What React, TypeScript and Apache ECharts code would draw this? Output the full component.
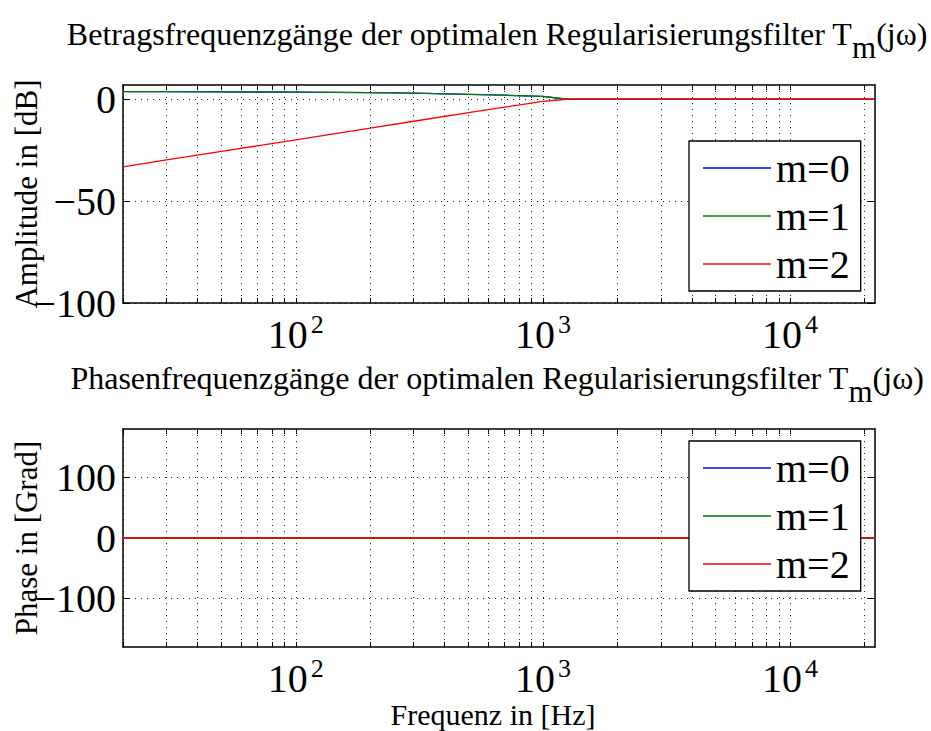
import React, { useEffect, useRef } from 'react';
import * as echarts from 'echarts';

// ---- data ----
const freqs = [20, 30, 50, 100, 200, 300, 500, 700, 1000, 1250, 2000, 5000, 10000, 22050];
const ampM0 = [3.7, 3.7, 3.6, 3.5, 3.3, 3.0, 2.4, 2.0, 1.4, 0, 0, 0, 0, 0];
const ampM1 = [3.7, 3.7, 3.6, 3.5, 3.3, 3.0, 2.4, 2.0, 1.4, 0, 0, 0, 0, 0];
const ampM2 = [-33.2, -29.8, -25.6, -19.9, -14.2, -10.8, -6.6, -3.9, -1.0, 0, 0, 0, 0, 0];
const phaseM0 = [0, 0, 0, 0, 0, 0, 0, 0, 0, 0, 0, 0, 0, 0];
const phaseM1 = [0, 0, 0, 0, 0, 0, 0, 0, 0, 0, 0, 0, 0, 0];
const phaseM2 = [0, 0, 0, 0, 0, 0, 0, 0, 0, 0, 0, 0, 0, 0];
const seriesNames = ['m=0', 'm=1', 'm=2'];
const seriesColors = ['#0000ff', '#008000', '#ff0000'];
const freqGridValues = [
  20, 30, 40, 50, 60, 70, 80, 90,
  100, 200, 300, 400, 500, 600, 700, 800, 900,
  1000, 2000, 3000, 4000, 5000, 6000, 7000, 8000, 9000,
  10000, 20000,
];
const freqLabelValues = [100, 1000, 10000];
const ampTicks = [-100, -50, 0];
const phaseTicks = [-100, 0, 100];
const titleTop = 'Betragsfrequenzgänge der optimalen Regularisierungsfilter T';
const titleBottom = 'Phasenfrequenzgänge der optimalen Regularisierungsfilter T';
const titleSub = 'm';
const titleTail = '(jω)';
const ampName = 'Amplitude in [dB]';
const phaseName = 'Phase in [Grad]';
const freqName = 'Frequenz in [Hz]';

const FONT = '"Liberation Serif", "Times New Roman", serif';
const GRID_LINE = { color: '#222', type: [1, 5] as any, width: 1 };
const BOX = { color: '#000', width: 1.5 };

function xAxisCfg(gridIndex: number, position: string, main: boolean, withName: boolean) {
  return {
    type: 'log',
    logBase: 10,
    gridIndex,
    position,
    min: 20,
    max: 22050,
    name: withName ? freqName : '',
    nameLocation: 'middle',
    nameGap: 53,
    nameMoveOverlap: false,
    nameTextStyle: { fontSize: 30, lineHeight: 28, fontFamily: FONT, color: '#000', padding: [0, 12, 0, 0] },
    axisLine: { show: true, onZero: false, lineStyle: BOX },
    axisTick: {
      show: true,
      inside: true,
      length: 5,
      customValues: freqGridValues,
      lineStyle: { color: '#000', width: 1 },
    },
    axisLabel: main
      ? {
          show: true,
          customValues: freqLabelValues,
          margin: 21,
          formatter: (v: number) => `{b|10}{e|${Math.round(Math.log10(v))}}`,
          rich: {
            b: { fontSize: 40, lineHeight: 30, fontFamily: FONT, color: '#000', verticalAlign: 'bottom' },
            e: {
              fontSize: 26,
              lineHeight: 20,
              fontFamily: FONT,
              color: '#000',
              verticalAlign: 'bottom',
              padding: [0, 0, 17, 3],
            },
          },
        }
      : { show: false },
    splitLine: main ? { show: true, lineStyle: GRID_LINE } : { show: false },
    minorTick: { show: false },
    minorSplitLine: { show: false },
  };
}

function yAxisCfg(
  gridIndex: number,
  position: string,
  main: boolean,
  min: number,
  max: number,
  ticks: number[],
  name: string
) {
  return {
    type: 'value',
    gridIndex,
    position,
    min,
    max,
    name: main ? name : '',
    nameLocation: 'middle',
    nameGap: 81,
    nameMoveOverlap: false,
    nameTextStyle: { fontSize: 31, lineHeight: 31, fontFamily: FONT, color: '#000' },
    axisLine: { show: true, onZero: false, lineStyle: BOX },
    axisTick: {
      show: true,
      inside: true,
      length: 7,
      customValues: ticks,
      lineStyle: { color: '#000', width: 1 },
    },
    axisLabel: main
      ? {
          show: true,
          customValues: ticks,
          margin: 7,
          fontSize: 40,
          fontFamily: FONT,
          color: '#000',
          formatter: (v: number) => (v < 0 ? '\u2212' + Math.abs(v) : String(v)),
        }
      : { show: false },
    splitLine: main ? { show: true, lineStyle: GRID_LINE } : { show: false },
  };
}

function lineSeries(name: string, color: string, values: number[], axisIndex: number) {
  return {
    type: 'line',
    name,
    xAxisIndex: axisIndex,
    yAxisIndex: axisIndex,
    data: freqs.map((f, i) => [f, values[i]]),
    symbol: 'none',
    showSymbol: false,
    lineStyle: { color, width: 1.3 },
    itemStyle: { color },
    emphasis: { disabled: true },
  };
}

function legendCfg(top: number) {
  return {
    orient: 'vertical',
    left: 689,
    top,
    data: seriesNames.map((n) => ({ name: n, icon: 'rect' })),
    icon: 'rect',
    itemWidth: 68,
    itemHeight: 1.5,
    itemGap: 8,
    padding: [7, 11, 7, 14],
    borderColor: '#000',
    borderWidth: 1.3,
    borderRadius: 0,
    backgroundColor: '#fff',
    textStyle: { fontSize: 40, lineHeight: 40, fontFamily: FONT, color: '#000' },
    selectedMode: false,
  };
}

function titleGraphic(text: string, y: number) {
  return {
    type: 'text',
    x: 497,
    y,
    style: {
      text: `{a|${text}}{s|${titleSub}}{a|${titleTail}}`,
      align: 'center',
      verticalAlign: 'top',
      fill: '#000',
      rich: {
        a: { fontSize: 32, lineHeight: 24, fontFamily: FONT, fill: '#000', verticalAlign: 'top' },
        s: {
          fontSize: 31,
          lineHeight: 24,
          fontFamily: FONT,
          fill: '#000',
          verticalAlign: 'top',
          padding: [14, 0, 0, 0],
        },
      },
    },
  };
}

export default function App() {
  const ref = useRef<HTMLDivElement>(null);
  useEffect(() => {
    if (!ref.current) return;
    const chart = echarts.init(ref.current, undefined, { renderer: 'svg' });
    const option: any = {
      animation: false,
      backgroundColor: '#fff',
      grid: [
        { left: 123, top: 85, width: 752, height: 218, outerBoundsMode: 'none', containLabel: false },
        { left: 123, top: 429, width: 752, height: 218, outerBoundsMode: 'none', containLabel: false },
      ],
      xAxis: [
        xAxisCfg(0, 'bottom', true, false),
        xAxisCfg(0, 'top', false, false),
        xAxisCfg(1, 'bottom', true, true),
        xAxisCfg(1, 'top', false, false),
      ],
      yAxis: [
        yAxisCfg(0, 'left', true, -100, 7, ampTicks, ampName),
        yAxisCfg(0, 'right', false, -100, 7, ampTicks, ampName),
        yAxisCfg(1, 'left', true, -180, 180, phaseTicks, phaseName),
        yAxisCfg(1, 'right', false, -180, 180, phaseTicks, phaseName),
      ],
      legend: [legendCfg(141), legendCfg(441)],
      graphic: [titleGraphic(titleTop, 18), titleGraphic(titleBottom, 362)],
      series: [
        lineSeries(seriesNames[0], seriesColors[0], ampM0, 0),
        lineSeries(seriesNames[1], seriesColors[1], ampM1, 0),
        lineSeries(seriesNames[2], seriesColors[2], ampM2, 0),
        lineSeries(seriesNames[0], seriesColors[0], phaseM0, 2),
        lineSeries(seriesNames[1], seriesColors[1], phaseM1, 2),
        lineSeries(seriesNames[2], seriesColors[2], phaseM2, 2),
      ],
    };
    chart.setOption(option);
    return () => chart.dispose();
  }, []);
  return (
    <div
      ref={ref}
      style={{ position: 'absolute', left: 0, top: 0, width: 931, height: 731, background: '#fff' }}
    />
  );
}
